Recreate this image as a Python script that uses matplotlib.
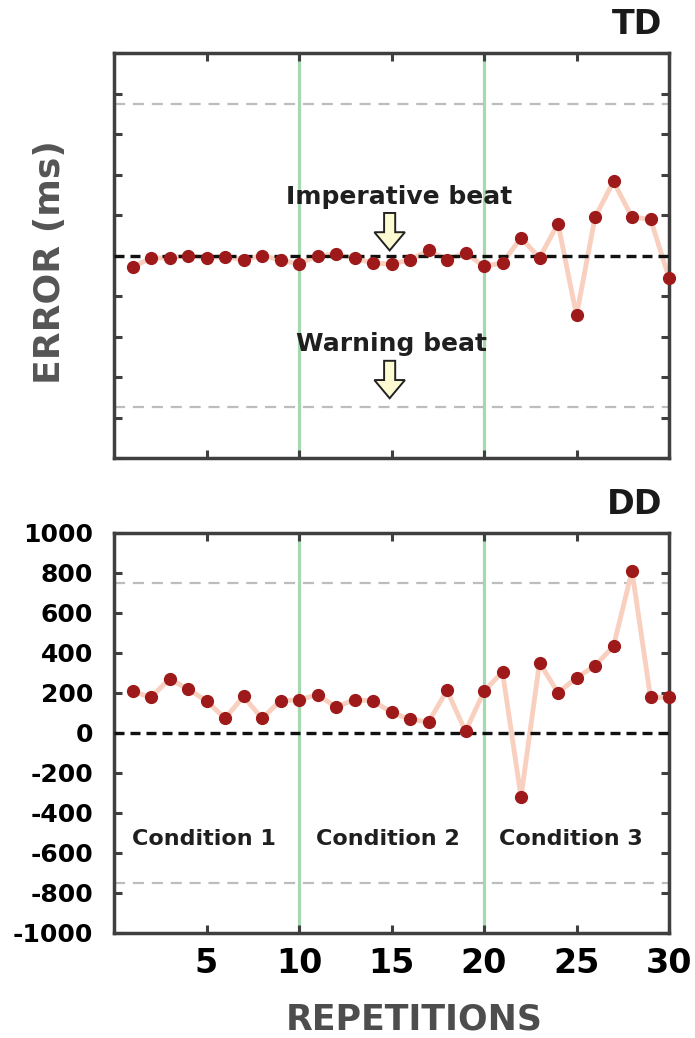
import matplotlib
import numpy as np

matplotlib.use("Agg")
import matplotlib.pyplot as plt
from matplotlib.patches import FancyArrow

plt.rcParams["font.family"] = ["DejaVu Sans"]
plt.rcParams["axes.unicode_minus"] = False

repetitions = np.arange(1, 31)

td_error = [-58, -12, -12, 0, -12, -5, -20, 0, -22, -42,
            0, 5, -12, -38, -42, -22, 25, -20, 12, -53,
            -37, 88, -12, 158, -296, 188, 366, 188, 180, -111]

dd_error = [208, 178, 271, 219, 161, 73, 183, 73, 161, 166,
            191, 130, 166, 161, 103, 68, 55, 213, 8, 208,
            306, -321, 352, 201, 276, 336, 434, 811, 178, 178]

condition_bounds = [10, 20]
condition_labels = ["Condition 1", "Condition 2", "Condition 3"]
condition_label_x = [4.85, 14.8, 24.7]
tolerance = 750
y_ticks = np.arange(-1000, 1001, 200)
x_ticks = [5, 10, 15, 20, 25, 30]

AXIS_GRAY = "#3f3f3f"
LINE_COLOR = "#f9d0c0"
MARKER_COLOR = "#9e1a1a"
GREEN = "#a6d9b0"
ARROW_FILL = "#fdfbd2"
TEXT_DARK = "#1f1f1f"


def style_axes(ax, show_labels):
    ax.set_xlim(0, 30)
    ax.set_ylim(-1000, 1000)
    ax.set_xticks(x_ticks)
    ax.set_yticks(y_ticks)
    ax.tick_params(direction="in", length=6, width=2.2, color=AXIS_GRAY,
                   top=True, right=True)
    for spine in ax.spines.values():
        spine.set_linewidth(2.5)
        spine.set_color(AXIS_GRAY)
    if show_labels:
        ax.tick_params(axis="y", labelsize=18, pad=15)
        ax.tick_params(axis="x", labelsize=24, pad=10)
        for label in ax.get_xticklabels() + ax.get_yticklabels():
            label.set_fontweight("bold")
    else:
        ax.set_xticklabels([])
        ax.set_yticklabels([])


def draw_series(ax, values):
    for bound in condition_bounds:
        ax.axvline(bound, color=GREEN, lw=2.3, zorder=1)
    ax.axhline(tolerance, color="#bdbdbd", lw=1.6, ls=(0, (5, 3.5)), zorder=1)
    ax.axhline(-tolerance, color="#bdbdbd", lw=1.6, ls=(0, (5, 3.5)), zorder=1)
    ax.plot(repetitions, values, color=LINE_COLOR, lw=3.5, zorder=2, clip_on=False)
    ax.axhline(0, color="#111111", lw=2.4, ls=(0, (3, 1.8)), zorder=3)
    ax.plot(repetitions, values, ls="none", marker="o", ms=8.5,
            color=MARKER_COLOR, zorder=4, clip_on=False)


def down_arrow(ax, x, y_top, y_tip):
    arrow = FancyArrow(x, y_top, 0, y_tip - y_top, width=0.6, head_width=1.65,
                       head_length=90, length_includes_head=True,
                       fc=ARROW_FILL, ec="#222222", lw=1.4, zorder=5)
    ax.add_patch(arrow)


fig = plt.figure(figsize=(6.95, 10.38), dpi=100)
ax_td = fig.add_axes([114 / 695, 1 - 458 / 1038, 555 / 695, 405 / 1038])
ax_dd = fig.add_axes([114 / 695, 1 - 933 / 1038, 555 / 695, 400 / 1038])

draw_series(ax_td, td_error)
style_axes(ax_td, show_labels=False)
ax_td.text(15.4, 290, "Imperative beat", ha="center", va="center",
           fontsize=18, fontweight="bold", color=TEXT_DARK, zorder=6)
down_arrow(ax_td, 14.9, 210, 25)
ax_td.text(15.0, -435, "Warning beat", ha="center", va="center",
           fontsize=18, fontweight="bold", color=TEXT_DARK, zorder=6)
down_arrow(ax_td, 14.9, -520, -705)

draw_series(ax_dd, dd_error)
style_axes(ax_dd, show_labels=True)
for label, x in zip(condition_labels, condition_label_x):
    ax_dd.text(x, -530, label, ha="center", va="center", fontsize=16,
               fontweight="bold", color=TEXT_DARK)

fig.text(662 / 695, 1 - 24 / 1038, "TD", ha="right", va="center",
         fontsize=24, fontweight="bold", color="#1a1a1a")
fig.text(662 / 695, 1 - 505 / 1038, "DD", ha="right", va="center",
         fontsize=24, fontweight="bold", color="#1a1a1a")
fig.text(50 / 695, 1 - 262 / 1038, "ERROR (ms)", rotation=90, ha="center",
         va="center", fontsize=26, fontweight="bold", color="#555555")
fig.text(414 / 695, 1 - 1020 / 1038, "REPETITIONS", ha="center", va="center",
         fontsize=25, fontweight="bold", color="#4d4d4d")

fig.savefig("out.png", dpi=100)
plt.close(fig)
